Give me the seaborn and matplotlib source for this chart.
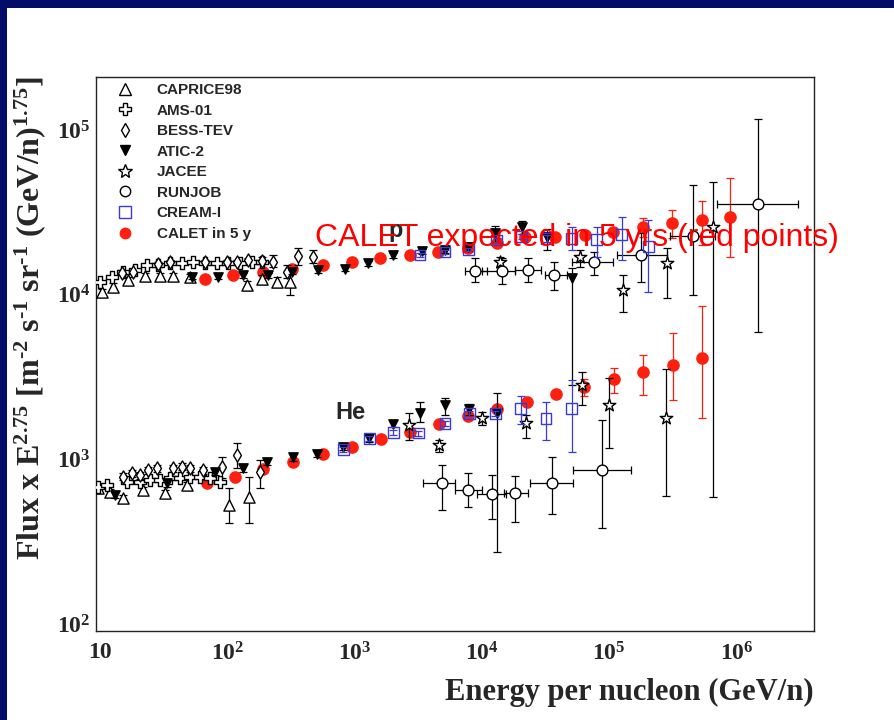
import numpy as np
import pandas as pd
import matplotlib
matplotlib.use('Agg')
import matplotlib.pyplot as plt
import seaborn as sns
from matplotlib.lines import Line2D
from matplotlib.patches import Rectangle
from matplotlib.ticker import FixedLocator, FixedFormatter, NullFormatter

# ---------------- data ----------------
# Proton band
p_caprice_E  = [10.3, 12.6, 16.7, 22.6, 29.6, 37.6, 50.9, 142, 186, 244, 311]
p_caprice_F  = [1.04e4, 1.12e4, 1.23e4, 1.30e4, 1.30e4, 1.30e4, 1.29e4, 1.14e4, 1.24e4, 1.20e4, 1.20e4]
p_caprice_lo = [0.99e4, 1.07e4, 1.18e4, 1.25e4, 1.25e4, 1.25e4, 1.24e4, 1.07e4, 1.16e4, 1.12e4, 0.995e4]
p_caprice_hi = [1.09e4, 1.17e4, 1.28e4, 1.35e4, 1.35e4, 1.35e4, 1.34e4, 1.21e4, 1.32e4, 1.28e4, 1.41e4]

p_ams_E = [10, 12.4, 15.2, 18.9, 23.3, 28.7, 35.5, 43.9, 54.1, 66.9, 82.6, 102, 126, 155, 186]
p_ams_F = [1.20e4, 1.28e4, 1.37e4, 1.42e4, 1.51e4, 1.51e4, 1.55e4, 1.55e4, 1.58e4, 1.55e4,
           1.55e4, 1.55e4, 1.55e4, 1.57e4, 1.58e4]

p_bess_E  = [14.8, 18.2, 28.5, 35.5, 66.9, 99, 119, 146, 186, 230, 292, 362, 474]
p_bess_F  = [1.36e4, 1.38e4, 1.53e4, 1.58e4, 1.58e4, 1.58e4, 1.58e4, 1.62e4, 1.60e4, 1.58e4, 1.37e4, 1.73e4, 1.70e4]
p_bess_lo = [1.31e4, 1.33e4, 1.48e4, 1.53e4, 1.53e4, 1.53e4, 1.53e4, 1.56e4, 1.53e4, 1.48e4, 1.27e4, 1.51e4, 1.55e4]
p_bess_hi = [1.41e4, 1.43e4, 1.58e4, 1.63e4, 1.63e4, 1.63e4, 1.63e4, 1.68e4, 1.70e4, 1.74e4, 1.51e4, 1.92e4, 1.87e4]

p_atic_E  = [52.5, 85, 134, 210, 321, 518, 841, 1283, 2014, 3365, 5130, 7815, 1.27e4, 2.05e4, 3.23e4, 5.07e4]
p_atic_F  = [1.285e4, 1.285e4, 1.315e4, 1.315e4, 1.377e4, 1.407e4, 1.44e4, 1.55e4, 1.74e4, 1.83e4,
             1.87e4, 1.95e4, 2.36e4, 2.58e4, 2.25e4, 1.26e4]
p_atic_lo = [1.24e4, 1.24e4, 1.27e4, 1.27e4, 1.33e4, 1.36e4, 1.39e4, 1.50e4, 1.68e4, 1.77e4,
             1.80e4, 1.85e4, 2.10e4, 2.35e4, 1.87e4, 2825]
p_atic_hi = [1.33e4, 1.33e4, 1.36e4, 1.36e4, 1.42e4, 1.46e4, 1.49e4, 1.60e4, 1.80e4, 1.89e4,
             1.94e4, 2.05e4, 2.60e4, 2.80e4, 2.50e4, 1.45e4]

p_jacee_E  = [1.39e4, 5.9e4, 1.29e5, 2.83e5, 6.58e5]
p_jacee_F  = [1.585e4, 1.70e4, 1.067e4, 1.55e4, 2.58e4]
p_jacee_lo = [1.48e4, 1.48e4, 0.787e4, 0.953e4, 590]
p_jacee_hi = [1.70e4, 1.87e4, 1.315e4, 1.92e4, 4.85e4]

p_runjob_E   = [8830, 1.43e4, 2.32e4, 3.68e4, 7.64e4, 1.77e5, 4.58e5, 1.48e6]
p_runjob_F   = [1.39e4, 1.39e4, 1.41e4, 1.315e4, 1.57e4, 1.74e4, 2.27e4, 3.55e4]
p_runjob_Elo = [7360, 9960, 1.82e4, 3.13e4, 5.07e4, 1.15e5, 3.0e5, 6.99e5]
p_runjob_Ehi = [1.09e4, 1.82e4, 2.91e4, 4.64e4, 1.08e5, 2.83e5, 6.79e5, 3.06e6]
p_runjob_lo  = [1.20e4, 1.16e4, 1.19e4, 1.07e4, 1.315e4, 1.20e4, 0.995e4, 5930]
p_runjob_hi  = [1.67e4, 1.67e4, 1.67e4, 1.585e4, 1.82e4, 2.36e4, 4.63e4, 1.175e5]

p_cream_E  = [3268, 5130, 7815, 1.31e4, 2.05e4, 3.23e4, 5.07e4, 7.97e4, 1.25e5, 2.03e5]
p_cream_F  = [1.74e4, 1.82e4, 1.88e4, 2.15e4, 2.25e4, 2.20e4, 2.20e4, 2.17e4, 2.32e4, 1.96e4]
p_cream_lo = [1.69e4, 1.77e4, 1.83e4, 2.08e4, 2.17e4, 2.10e4, 1.87e4, 1.70e4, 1.62e4, 1.04e4]
p_cream_hi = [1.79e4, 1.87e4, 1.93e4, 2.22e4, 2.33e4, 2.30e4, 2.58e4, 2.58e4, 2.97e4, 2.84e4]

p_calet_E  = [66.8, 111, 192, 321, 568, 949, 1583, 2723, 4520, 7815, 1.31e4, 2.18e4, 3.75e4,
              6.46e4, 1.08e5, 1.85e5, 3.14e5, 5.33e5, 8.9e5]
p_calet_F  = [1.24e4, 1.315e4, 1.377e4, 1.425e4, 1.513e4, 1.585e4, 1.66e4, 1.747e4, 1.82e4, 1.91e4,
              2.05e4, 2.25e4, 2.25e4, 2.32e4, 2.41e4, 2.58e4, 2.71e4, 2.84e4, 2.97e4]
p_calet_lo = [1.24e4, 1.315e4, 1.377e4, 1.425e4, 1.513e4, 1.585e4, 1.66e4, 1.747e4, 1.82e4, 1.91e4,
              2.05e4, 2.25e4, 2.20e4, 2.25e4, 2.30e4, 2.23e4, 2.20e4, 2.00e4, 1.69e4]
p_calet_hi = [1.24e4, 1.315e4, 1.377e4, 1.425e4, 1.513e4, 1.585e4, 1.66e4, 1.747e4, 1.82e4, 1.91e4,
              2.05e4, 2.25e4, 2.30e4, 2.40e4, 2.55e4, 2.92e4, 3.27e4, 3.72e4, 5.10e4]

# Helium band
he_caprice_E  = [9.6, 12.0, 15.2, 21.9, 32.4, 48, 104, 149]
he_caprice_F  = [667, 633, 580, 651, 622, 698, 528, 593]
he_caprice_lo = [640, 607, 556, 624, 596, 669, 408, 408]
he_caprice_hi = [695, 660, 605, 678, 648, 727, 670, 784]

he_ams_E = [9.6, 11.3, 16.2, 20.6, 24.7, 29.6, 35.5, 42.5, 51, 61, 73.3, 87.6]
he_ams_F = [676, 698, 731, 731, 748, 748, 767, 767, 784, 784, 767, 731]

he_bess_E  = [15.2, 17.7, 20.6, 24.0, 27.9, 37.6, 43.8, 51, 64.9, 90.3, 118.6, 180.6]
he_bess_F  = [784, 822, 803, 861, 882, 882, 902, 882, 861, 894, 1062, 841]
he_bess_lo = [745, 781, 763, 818, 838, 838, 857, 838, 818, 767, 885, 670]
he_bess_hi = [823, 863, 843, 904, 926, 926, 947, 926, 904, 1038, 1256, 991]

he_atic_E  = [13.1, 33.4, 80, 132, 204, 326, 509, 815, 1305, 2014, 3268, 5130, 7960, 1.31e4]
he_atic_F  = [607, 714, 841, 882, 966, 1028, 1076, 1191, 1341, 1637, 1923, 2137, 2018, 1901]
he_atic_lo = [580, 682, 803, 843, 923, 982, 1028, 1138, 1281, 1564, 1692, 1858, 1858, 274]
he_atic_hi = [634, 746, 879, 921, 1009, 1074, 1124, 1244, 1401, 1710, 2238, 2355, 2180, 2527]

he_jacee_E  = [2690, 4630, 9960, 2.22e4, 6.08e4, 1.0e5, 2.78e5]
he_jacee_F  = [1615, 1221, 1774, 1654, 2825, 2137, 1774]
he_jacee_lo = [1309, 1112, 1615, 1341, 2137, 1166, 599]
he_jacee_hi = [1901, 1309, 1945, 1858, 3404, 3104, 3520]

he_runjob_E   = [4830, 7815, 1.19e4, 1.82e4, 3.53e4, 8.73e4]
he_runjob_F   = [714, 651, 615, 627, 714, 861]
he_runjob_Elo = [3428, 6150, 9200, 1.49e4, 2.39e4, 5.21e4]
he_runjob_Ehi = [6150, 9960, 1.55e4, 2.32e4, 5.21e4, 1.47e5]
he_runjob_lo  = [492, 511, 432, 418, 465, 381]
he_runjob_hi  = [923, 829, 803, 791, 1028, 1732]

he_cream_E  = [815, 1305, 2014, 3163, 5130, 7960, 1.27e4, 2.02e4, 3.19e4, 5.07e4]
he_cream_F  = [1150, 1341, 1450, 1446, 1650, 1901, 1901, 2041, 1775, 2041]
he_cream_lo = [1110, 1295, 1400, 1396, 1593, 1835, 1835, 1637, 1309, 1112]
he_cream_hi = [1190, 1387, 1500, 1496, 1707, 1967, 1967, 2421, 2240, 3027]

he_calet_E  = [68.9, 115, 192, 330, 568, 949, 1603, 2723, 4585, 7815, 1.31e4, 2.25e4, 3.8e4,
               6.37e4, 1.09e5, 1.85e5, 3.15e5, 5.33e5]
he_calet_F  = [714, 783, 869, 966, 1076, 1191, 1321, 1458, 1632, 1832, 2012, 2238, 2490,
               2760, 3060, 3404, 3738, 4143]
he_calet_lo = [714, 783, 869, 966, 1076, 1191, 1321, 1458, 1632, 1832, 2012, 2238, 2490,
               2420, 2530, 2455, 2290, 1782]
he_calet_hi = [714, 783, 869, 966, 1076, 1191, 1321, 1458, 1632, 1832, 2012, 2238, 2490,
               3073, 3580, 4296, 5848, 8530]

legend_labels = ['CAPRICE98', 'AMS-01', 'BESS-TEV', 'ATIC-2', 'JACEE', 'RUNJOB', 'CREAM-I', 'CALET in 5 y']
x_major = [1e1, 1e2, 1e3, 1e4, 1e5, 1e6]
x_labels = ['10', '10$^{2}$', '10$^{3}$', '10$^{4}$', '10$^{5}$', '10$^{6}$']
y_major = [1e2, 1e3, 1e4, 1e5]
y_labels = ['10$^{2}$', '10$^{3}$', '10$^{4}$', '10$^{5}$']

# ---------------- style ----------------
sns.set_style('white')
plt.rcParams['font.family'] = ['Liberation Serif', 'DejaVu Serif']
plt.rcParams['mathtext.fontset'] = 'custom'
plt.rcParams['mathtext.rm'] = 'Liberation Serif:bold'
plt.rcParams['mathtext.it'] = 'Liberation Serif:italic:bold'
plt.rcParams['mathtext.bf'] = 'Liberation Serif:bold'
plt.rcParams['mathtext.default'] = 'rm'

RED = '#ff1f0f'
BLUE = '#3a3ad8'
NAVY = '#030c66'

fig = plt.figure(figsize=(8.94, 7.2), dpi=100)
fig.patch.set_facecolor('white')
ax = fig.add_axes([96 / 894, 1 - 631 / 720, (814 - 96) / 894, (631 - 77) / 720])
ax.set_facecolor('white')
ax.set_xscale('log')
ax.set_yscale('log')


def draw(E, F, lo=None, hi=None, marker='o', face='white', edge='black', s=60,
         ecolor='black', Elo=None, Ehi=None, z=3, lw=1.0):
    E = np.asarray(E, float)
    F = np.asarray(F, float)
    if lo is not None:
        yerr = np.vstack([F - np.asarray(lo, float), np.asarray(hi, float) - F])
    else:
        yerr = None
    xerr = None
    if Elo is not None:
        xerr = np.vstack([E - np.asarray(Elo, float), np.asarray(Ehi, float) - E])
    if yerr is not None or xerr is not None:
        ax.errorbar(E, F, yerr=yerr, xerr=xerr, fmt='none', ecolor=ecolor,
                    elinewidth=0.9, capsize=3, capthick=0.9, zorder=z - 0.5)
    df = pd.DataFrame({'E': E, 'F': F})
    sns.scatterplot(data=df, x='E', y='F', marker=marker, s=s, color=face,
                    edgecolor=edge, linewidth=lw, ax=ax, zorder=z, legend=False)


# CALET (red)
draw(p_calet_E, p_calet_F, p_calet_lo, p_calet_hi, 'o', RED, RED, 65, RED, z=2)
draw(he_calet_E, he_calet_F, he_calet_lo, he_calet_hi, 'o', RED, RED, 65, RED, z=2)
# CAPRICE
draw(p_caprice_E, p_caprice_F, p_caprice_lo, p_caprice_hi, '^', 'white', 'black', 65)
draw(he_caprice_E, he_caprice_F, he_caprice_lo, he_caprice_hi, '^', 'white', 'black', 65)
# AMS-01
draw(p_ams_E, p_ams_F, marker='P', s=70)
draw(he_ams_E, he_ams_F, marker='P', s=70)
# BESS
draw(p_bess_E, p_bess_F, p_bess_lo, p_bess_hi, 'd', 'white', 'black', 45)
draw(he_bess_E, he_bess_F, he_bess_lo, he_bess_hi, 'd', 'white', 'black', 45)
# ATIC-2
draw(p_atic_E, p_atic_F, p_atic_lo, p_atic_hi, 'v', 'black', 'black', 45, z=4)
draw(he_atic_E, he_atic_F, he_atic_lo, he_atic_hi, 'v', 'black', 'black', 45, z=4)
# JACEE
draw(p_jacee_E, p_jacee_F, p_jacee_lo, p_jacee_hi, '*', 'white', 'black', 90)
draw(he_jacee_E, he_jacee_F, he_jacee_lo, he_jacee_hi, '*', 'white', 'black', 90)
# RUNJOB
draw(p_runjob_E, p_runjob_F, p_runjob_lo, p_runjob_hi, 'o', 'white', 'black', 60,
     Elo=p_runjob_Elo, Ehi=p_runjob_Ehi)
draw(he_runjob_E, he_runjob_F, he_runjob_lo, he_runjob_hi, 'o', 'white', 'black', 60,
     Elo=he_runjob_Elo, Ehi=he_runjob_Ehi)
# CREAM-I
draw(p_cream_E, p_cream_F, p_cream_lo, p_cream_hi, 's', 'none', BLUE, 60, BLUE, z=5)
draw(he_cream_E, he_cream_F, he_cream_lo, he_cream_hi, 's', 'none', BLUE, 60, BLUE, z=5)

# ---------------- axes ----------------
ax.set_xlim(9.3, 4.06e6)
ax.set_ylim(90.7, 2.1e5)
ax.xaxis.set_major_locator(FixedLocator(x_major))
ax.xaxis.set_major_formatter(FixedFormatter(x_labels))
xminor = [m * 10 ** k for k in range(1, 7) for m in range(2, 10) if m * 10 ** k < 4.06e6]
ax.xaxis.set_minor_locator(FixedLocator(xminor))
ax.xaxis.set_minor_formatter(NullFormatter())
ax.yaxis.set_major_locator(FixedLocator(y_major))
ax.yaxis.set_major_formatter(FixedFormatter(y_labels))
yminor = [m * 10 ** k for k in range(2, 6) for m in range(2, 10) if m * 10 ** k < 2.1e5]
ax.yaxis.set_minor_locator(FixedLocator(yminor))
ax.yaxis.set_minor_formatter(NullFormatter())

ax.tick_params(axis='both', which='both', direction='in', top=False, right=False,
               color='black', width=0.9)
ax.tick_params(axis='x', which='major', length=13, pad=8, labelsize=17)
ax.tick_params(axis='x', which='minor', length=6.5)
ax.tick_params(axis='y', which='major', length=16, pad=4, labelsize=17)
ax.tick_params(axis='y', which='minor', length=8.5)
for lab in ax.get_xticklabels() + ax.get_yticklabels():
    lab.set_fontweight('bold')
for sp in ax.spines.values():
    sp.set_color('#222222')
    sp.set_linewidth(1.0)

ax.set_ylabel('')
ax.set_xlabel('Energy per nucleon (GeV/n)', fontsize=22, fontweight='bold',
              family=['Liberation Serif'])
ax.xaxis.set_label_coords(1.0, -0.085)
ax.xaxis.label.set_horizontalalignment('right')

HY = '\u2010'  # plain hyphen for the exponents
ylabel = ('Flux x E$^{2.75}$ [m$^{' + HY + '2}$ s$^{' + HY + '1}$ sr$^{' + HY + '1}$ '
          '(GeV/n)$^{1.75}$]')
fig.text(30 / 894, 1 - 318 / 720, ylabel,
         rotation=90, fontsize=23, fontweight='bold', family=['Liberation Serif'],
         ha='center', va='center')

# ---------------- legend ----------------
handles = [
    Line2D([], [], ls='none', marker='^', mfc='white', mec='black', ms=8, mew=1),
    Line2D([], [], ls='none', marker='P', mfc='white', mec='black', ms=8, mew=1),
    Line2D([], [], ls='none', marker='d', mfc='white', mec='black', ms=7, mew=1),
    Line2D([], [], ls='none', marker='v', mfc='black', mec='black', ms=7, mew=1),
    Line2D([], [], ls='none', marker='*', mfc='white', mec='black', ms=10, mew=1),
    Line2D([], [], ls='none', marker='o', mfc='white', mec='black', ms=7.5, mew=1),
    Line2D([], [], ls='none', marker='s', mfc='white', mec=BLUE, ms=8, mew=1),
    Line2D([], [], ls='none', marker='o', mfc=RED, mec=RED, ms=7.5, mew=1),
]
leg = ax.legend(handles, legend_labels, loc='upper left', frameon=False,
                bbox_to_anchor=(117 / 894, 1 - 83 / 720), bbox_transform=fig.transFigure,
                borderpad=0, borderaxespad=0, handlelength=1.0, handletextpad=1.6,
                labelspacing=0.43, prop={'family': 'Liberation Sans', 'weight': 'bold', 'size': 11})

# ---------------- annotations ----------------
fig.text(388 / 894, 1 - 237 / 720, 'p', fontsize=17, fontweight='bold',
         family='Liberation Sans', va='baseline', ha='left', zorder=9)
fig.text(335 / 894, 1 - 419 / 720, 'He', fontsize=17, fontweight='bold',
         family='Liberation Sans', va='baseline', ha='left', zorder=9)
fig.text(315 / 894, 1 - 246 / 720, 'CALET expected in 5 yrs (red points)', fontsize=23,
         color='#ff0000', family='Liberation Sans', va='baseline', ha='left', zorder=10)

# navy frame of the slide
fig.patches.append(Rectangle((0, 1 - 8 / 720), 1, 8 / 720, transform=fig.transFigure,
                             facecolor=NAVY, edgecolor='none', zorder=20))
fig.patches.append(Rectangle((0, 0), 7 / 894, 1, transform=fig.transFigure,
                             facecolor=NAVY, edgecolor='none', zorder=20))

fig.savefig('out.png', dpi=100)
